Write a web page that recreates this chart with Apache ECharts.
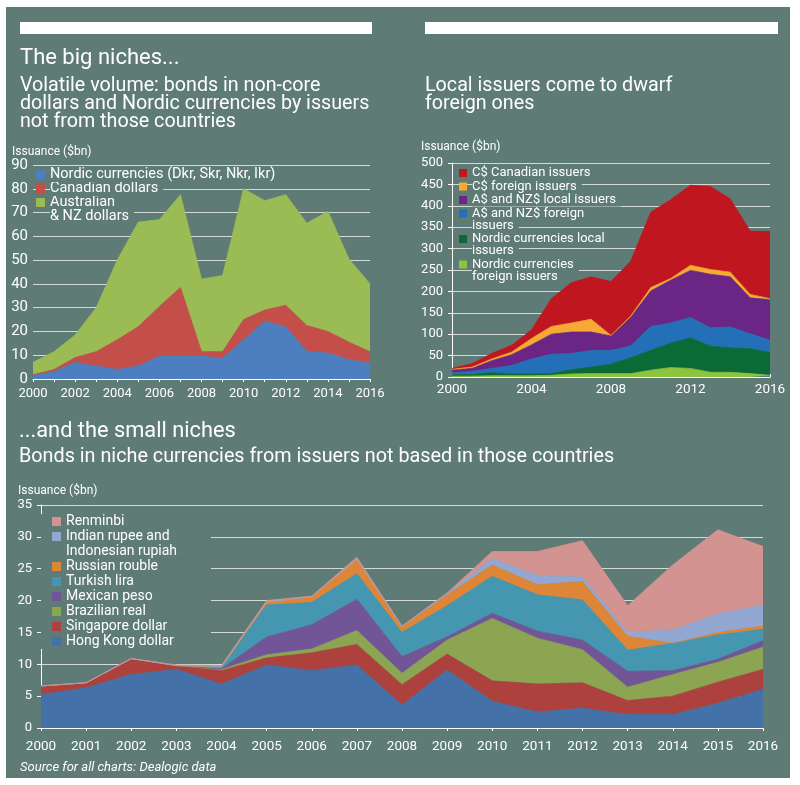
<!DOCTYPE html>
<html>
<head>
<meta charset="utf-8">
<script src="https://cdn.jsdelivr.net/npm/echarts@6/dist/echarts.min.js"></script>
<style>
  html, body { margin: 0; padding: 0; background: #fff; }
  #wrap { position: relative; width: 800px; height: 785px; background: #fff; }
  #panel { position: absolute; left: 6px; top: 7px; width: 784px; height: 771px; background: #5e7b75; }
  #main { position: absolute; left: 0; top: 0; width: 800px; height: 785px; }
</style>
</head>
<body>
<div id="wrap">
  <div id="panel"></div>
  <div id="main"></div>
</div>
<script>
// years on every x axis
var years = ['2000', '2001', '2002', '2003', '2004', '2005', '2006', '2007', '2008',
  '2009', '2010', '2011', '2012', '2013', '2014', '2015', '2016'];

// top left: non-core dollars and Nordic currencies, foreign issuers ($bn)
var nordic = [1.5, 3, 7, 5.5, 4, 5.5, 9.7, 9.7, 9.7, 8.7, 16.5, 24.3, 22, 11.7, 10.9, 8.2, 6.6];
var canadian = [0.3, 1, 2, 6, 12.5, 16.5, 20.8, 28.8, 1.8, 2.8, 8.5, 4.7, 9, 10.8, 9.1, 7.3, 4.9];
var australian = [5.2, 7.5, 9.5, 18.5, 33.5, 44, 36.5, 39, 30.5, 32, 55, 46, 46.5, 43, 50.5, 35, 28.5];
var bigNames = ['Nordic currencies (Dkr, Skr, Nkr, Ikr)', 'Canadian dollars', 'Australian\n& NZ dollars'];
var bigColors = ['#4d7fc0', '#c44f4a', '#9bbb55'];

// top right: local vs foreign issuers ($bn), bottom layer first
var nordicForeign = [2, 2, 3, 3, 3, 4, 7, 8, 8, 8, 16, 22, 20, 11, 11, 8, 4];
var nordicLocal = [3, 4, 7, 4, 4, 4, 10, 15, 22, 37, 46, 57, 71, 61, 57, 58, 53];
var ausForeign = [5, 7, 10, 20, 35, 45, 38, 39, 32, 28, 56, 47, 48, 43, 49, 35, 29];
var ausLocal = [7, 7, 18, 25, 33, 47, 50, 43, 34, 67, 83, 100, 110, 125, 117, 84, 93];
var cadForeign = [1, 3, 4, 6, 15, 18, 21, 30, 1, 3, 8, 4, 12, 11, 11, 8, 4];
var cadLocal = [2, 8, 13, 16, 20, 65, 94, 99, 126, 128, 176, 184, 187, 194, 171, 148, 157];
var issuerNames = ['Nordic currencies\nforeign issuers', 'Nordic currencies local\nissuers',
  'A$ and NZ$ foreign\nissuers', 'A$ and NZ$ local issuers', 'C$ foreign issuers', 'C$ Canadian issuers'];
var issuerColors = ['#8cc33f', '#0b6a36', '#2470b8', '#6b2585', '#f6a935', '#c0161f'];

// bottom: small niche currencies ($bn), bottom layer first
var hkd = [5.2, 6.3, 8.4, 9.2, 6.9, 9.9, 9.0, 9.9, 3.6, 9.1, 4.2, 2.5, 3.1, 2.1, 2.1, 3.9, 6.1];
var sgd = [1.4, 0.8, 2.5, 0.6, 2.1, 1.1, 2.8, 3.2, 3.2, 2.5, 3.2, 4.4, 4.0, 2.2, 2.9, 3.3, 3.1];
var brl = [0, 0, 0, 0, 0.2, 0.5, 0.6, 2.2, 1.8, 2.2, 9.8, 7.2, 5.2, 2.1, 3.4, 3.1, 3.5];
var mxn = [0, 0, 0, 0, 0.1, 2.8, 3.8, 4.9, 2.6, 0.5, 0.8, 1.1, 1.5, 2.5, 0.6, 0.5, 1.0];
var lira = [0, 0, 0, 0, 0.2, 5.0, 3.5, 4.0, 3.8, 4.9, 5.8, 5.7, 6.3, 3.3, 4.3, 3.8, 1.8];
var rouble = [0, 0, 0, 0, 0, 0.4, 0.9, 2.2, 0.8, 1.7, 1.8, 1.6, 2.9, 2.2, 0, 0.4, 0.5];
var rupee = [0, 0, 0, 0, 0.2, 0.1, 0, 0.1, 0.1, 0.2, 1.0, 1.4, 0.7, 0.6, 2.1, 2.9, 3.3];
var renminbi = [0, 0, 0, 0.1, 0.1, 0.2, 0.1, 0.3, 0.1, 0.1, 1.1, 3.8, 5.7, 4.2, 10.2, 13.2, 9.2];
var smallNames = ['Hong Kong dollar', 'Singapore dollar', 'Brazilian real', 'Mexican peso', 'Turkish lira',
  'Russian rouble', 'Indian rupee and\nIndonesian rupiah', 'Renminbi'];
var smallColors = ['#4471a8', '#ad413e', '#8ba552', '#725597', '#4596b1', '#de8638', '#92a8d2', '#d39390'];

var F = 'Roboto, "Noto Sans", sans-serif';
var PANEL = '#5e7b75';
var GRIDLINE = '#d3dbd9';

function area(name, data, color, idx) {
  return {
    name: name, type: 'line', stack: 's' + idx, xAxisIndex: idx, yAxisIndex: idx,
    data: data, symbol: 'none', showSymbol: false, silent: true,
    lineStyle: { width: 0.8, color: color },
    itemStyle: { color: color },
    areaStyle: { color: color, opacity: 1 },
    emphasis: { disabled: true }
  };
}

// first line of a multi-line name sits level with the marker
function richLines(s) {
  var lines = s.split('\n');
  return new Array(lines.length).join('\n') +
    lines.map(function (l) { return '{m|' + l + '}'; }).join('\n');
}

// one legend per entry so each can be placed by its first line
function legendColumn(names, o) {
  var y = o.y, list = [];
  names.forEach(function (nm) {
    var n = nm.split('\n').length;
    var pad = o.padLeft || 0;
    list.push({
      data: [{ name: nm, icon: 'rect' }],
      orient: 'vertical',
      left: o.x - pad,
      top: y - (2 * n - 1) * o.lh / 2,
      padding: [0, 0, 0, pad],
      backgroundColor: o.boxBg || 'transparent',
      itemWidth: o.size, itemHeight: o.size,
      selectedMode: false,
      formatter: richLines,
      textStyle: {
        color: '#fff', fontFamily: F, fontSize: o.fs, lineHeight: o.lh,
        rich: { m: { color: '#fff', fontFamily: F, fontSize: o.fs, lineHeight: o.lh,
          backgroundColor: PANEL, padding: [0, 5, 0, 0], width: o.maskW } }
      }
    });
    y += (n - 1) * o.lh + o.step;
  });
  return list.reverse();
}

function xCat(idx, labelEvery, inside, margin, fs) {
  return {
    gridIndex: idx, type: 'category', data: years, boundaryGap: false,
    axisLine: { lineStyle: { color: '#fff', width: 1 } },
    axisTick: { show: true, interval: 0, inside: inside, length: 3, lineStyle: { color: '#fff' } },
    axisLabel: { interval: labelEvery, color: '#fff', fontFamily: F, fontSize: fs, margin: margin },
    splitLine: { show: false }
  };
}

function yVal(idx, max, step, fs, margin, showLine) {
  return {
    gridIndex: idx, type: 'value', min: 0, max: max, interval: step,
    axisLine: { show: showLine, lineStyle: { color: '#fff' } },
    axisTick: { show: showLine, length: 4, lineStyle: { color: '#fff' } },
    axisLabel: { color: '#fff', fontFamily: F, fontSize: fs, margin: margin },
    splitLine: { lineStyle: { color: GRIDLINE, width: 1 } }
  };
}

function head(text, left, top, fs, lh, extra) {
  var ts = { color: '#fff', fontFamily: F, fontSize: fs, lineHeight: lh, fontWeight: 'normal' };
  if (extra) Object.assign(ts, extra);
  return { text: text, left: left, top: top, padding: 0, textStyle: ts };
}

var series = [];
[nordic, canadian, australian].forEach(function (d, i) { series.push(area(bigNames[i], d, bigColors[i], 0)); });
[nordicForeign, nordicLocal, ausForeign, ausLocal, cadForeign, cadLocal].forEach(function (d, i) {
  series.push(area(issuerNames[i], d, issuerColors[i], 1));
});
[hkd, sgd, brl, mxn, lira, rouble, rupee, renminbi].forEach(function (d, i) {
  series.push(area(smallNames[i], d, smallColors[i], 2));
});

var legends = []
  .concat(legendColumn(bigNames, { x: 36, y: 174, step: 14, lh: 14, size: 9, fs: 14.5 }))
  .concat(legendColumn(issuerNames.slice().reverse(), { x: 459, y: 172.5, step: 13.5, lh: 12, size: 8, fs: 13 }))
  .concat(legendColumn(smallNames.slice().reverse(),
    { x: 52, y: 521.5, step: 15, lh: 15, size: 9, fs: 14, padLeft: 11, boxBg: PANEL, maskW: 140 }));

var option = {
  backgroundColor: 'transparent',
  animation: false,
  title: [
    head('The big niches...', 20, 47, 22, 22),
    head('Volatile volume: bonds in non-core\ndollars and Nordic currencies by issuers\nnot from those countries', 20, 77, 19.7, 18),
    head('Local issuers come to dwarf\nforeign ones', 425, 77, 19.7, 18),
    head('Issuance ($bn)', 12, 146, 12, 12),
    head('Issuance ($bn)', 421, 141, 12, 12),
    head('...and the small niches', 19, 421, 21.8, 22),
    head('Bonds in niche currencies from issuers not based in those countries', 19, 448, 19.8, 19),
    head('Issuance ($bn)', 18, 485, 12, 12),
    head('Source for all charts: Dealogic data', 20, 761, 13, 13, { fontStyle: 'italic' })
  ],
  graphic: [
    { type: 'rect', shape: { x: 20, y: 22, width: 352, height: 12 }, style: { fill: '#fff' } },
    { type: 'rect', shape: { x: 425, y: 22, width: 353, height: 12 }, style: { fill: '#fff' } }
  ],
  grid: [
    { left: 33, top: 165, width: 337, height: 214, outerBoundsMode: 'none' },
    { left: 452, top: 163, width: 318, height: 214, outerBoundsMode: 'none' },
    { left: 41, top: 505, width: 722, height: 223, outerBoundsMode: 'none' }
  ],
  xAxis: [xCat(0, 1, false, 8, 13), xCat(1, 3, true, 6, 13.5), xCat(2, 0, false, 12, 13.5)],
  yAxis: [yVal(0, 90, 10, 15, 5, false), yVal(1, 500, 50, 13, 9, true), yVal(2, 35, 5, 13, 9, true)],
  legend: legends,
  series: series
};

var chart = echarts.init(document.getElementById('main'), null, { renderer: 'canvas' });
chart.setOption(option);
</script>
</body>
</html>
